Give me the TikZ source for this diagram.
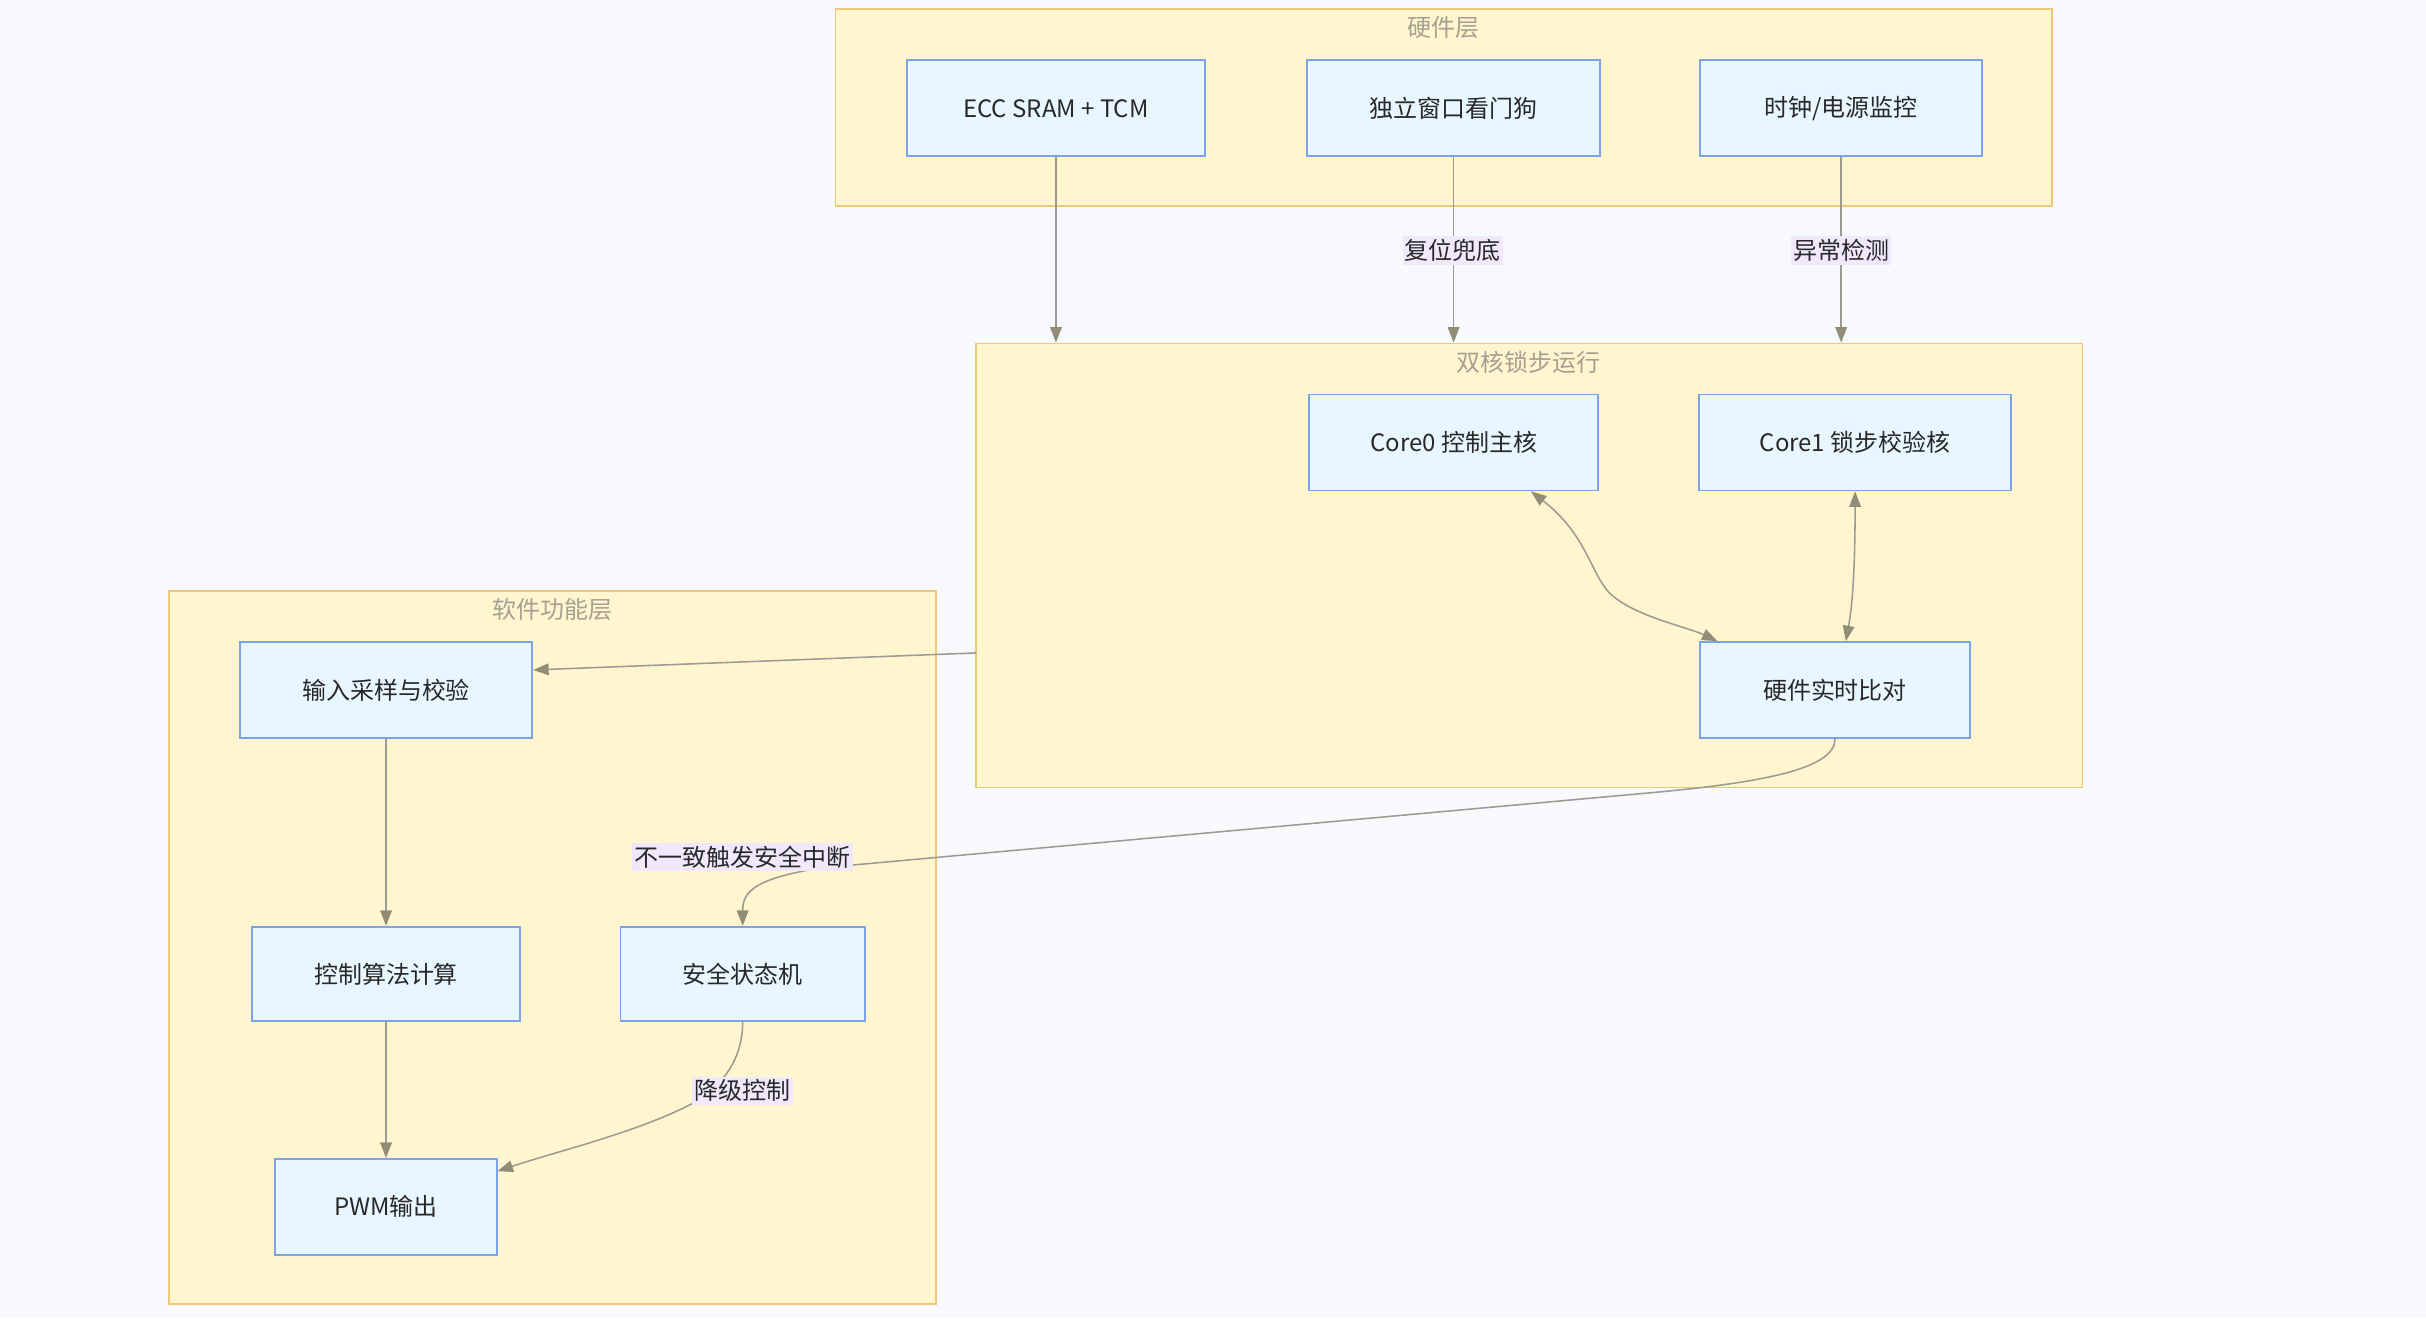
\documentclass[tikz,border=0pt]{standalone}
\usepackage{fontspec}
\setmainfont{Noto Sans CJK SC}
\usetikzlibrary{arrows.meta,calc}
\definecolor{bgc}{RGB}{248,249,252}
\definecolor{clfill}{RGB}{255,246,208}
\definecolor{cldraw}{RGB}{238,200,120}
\definecolor{cltext}{RGB}{165,160,145}
\definecolor{nfill}{RGB}{232,246,255}
\definecolor{ndraw}{RGB}{125,162,230}
\definecolor{ntext}{RGB}{40,40,40}
\definecolor{linec}{RGB}{155,155,148}
\definecolor{tipc}{RGB}{145,141,118}
\definecolor{lblfill}{RGB}{240,233,252}
\tikzset{
  cluster/.style={draw=cldraw,fill=clfill,line width=1.2pt,inner sep=0pt},
  cltitle/.style={text=cltext,font=\fontsize{15.5}{18}\selectfont,inner sep=0pt},
  box/.style={draw=ndraw,fill=nfill,line width=1.2pt,inner sep=0pt,text=ntext,font=\fontsize{15.5}{18}\selectfont},
  conn/.style={draw=linec,line width=1pt,-{Triangle[length=10pt,width=7.5pt,fill=tipc,color=tipc]}},
  conn2/.style={draw=linec,line width=1pt,{Triangle[length=10pt,width=7.5pt,fill=tipc,color=tipc]}-{Triangle[length=10pt,width=7.5pt,fill=tipc,color=tipc]}},
  elabel/.style={fill=lblfill,inner xsep=1.5pt,inner ysep=2pt,text=ntext,font=\fontsize{15.5}{18}\selectfont}
}
\begin{document}
\begin{tikzpicture}[x=1pt,y=-1pt]
\useasboundingbox (0,0) rectangle (1568,852);
\fill[bgc] (0,0) rectangle (1568,852);
% clusters
\node[cluster,minimum width=786pt,minimum height=127pt] (c1) at (933,69.5) {};
\node[cltitle] (t1) at (933,18) {硬件层};
\node[cluster,minimum width=715pt,minimum height=287pt] (c2) at (988.5,365.5) {};
\node[cltitle] (t2) at (988,234) {双核锁步运行};
\node[cluster,minimum width=496pt,minimum height=461pt] (c3) at (357,612.5) {};
\node[cltitle] (t3) at (357,394) {软件功能层};
% nodes
\node[box,minimum width=193pt,minimum height=62pt] (ecc) at (682.5,70) {ECC SRAM + TCM};
\node[box,minimum width=189pt,minimum height=62pt] (wdg) at (939.5,70) {独立窗口看门狗};
\node[box,minimum width=182pt,minimum height=62pt] (clk) at (1190,70) {时钟/电源监控};
\node[box,minimum width=187pt,minimum height=62pt] (core0) at (939.5,286) {Core0 控制主核};
\node[box,minimum width=202pt,minimum height=62pt] (core1) at (1199,286) {Core1 锁步校验核};
\node[box,minimum width=174pt,minimum height=62pt] (cmp) at (1186,446) {硬件实时比对};
\node[box,minimum width=189pt,minimum height=62pt] (inp) at (249.5,446) {输入采样与校验};
\node[box,minimum width=173pt,minimum height=61pt] (alg) at (249.5,629.5) {控制算法计算};
\node[box,minimum width=158pt,minimum height=61pt] (safe) at (480,629.5) {安全状态机};
\node[box,minimum width=143pt,minimum height=62pt] (pwm) at (249.5,780) {PWM输出};
% connectors hardware -> lockstep cluster
\draw[conn] (ecc.south) -- (ecc.south |- c2.north);
\draw[conn] (wdg.south) -- (wdg.south |- c2.north);
\draw[conn] (clk.south) -- (clk.south |- c2.north);
\node[elabel] (l1) at (939,162) {复位兜底};
\node[elabel] (l2) at (1190,162) {异常检测};
% core <-> compare
\draw[conn2] ([xshift=50pt]core0.south) .. controls (1025,345) and (1028,370) .. (1040,383) .. controls (1055,398) and (1090,405) .. ([xshift=-76pt]cmp.north);
\draw[conn2] (core1.south) .. controls (1199,380) and (1196,398) .. ([xshift=7pt]cmp.north);
% cluster -> input
\coordinate (c2out) at (631,422);
\draw[conn] (c2out) -- ([yshift=13pt]inp.east);
% compare -> safe state machine
\coordinate (m1) at (1060,513);
\coordinate (m2) at (530,561);
\draw[conn] (cmp.south) .. controls (1186,497) and (1140,506) .. (m1) -- (m2) .. controls (488,568) and (480,576) .. (safe.north);
\node[elabel] (l3) at (480,554) {不一致触发安全中断};
% software chain
\draw[conn] (inp.south) -- (alg.north);
\draw[conn] (alg.south) -- (pwm.north);
\coordinate (m3) at (455,709);
\draw[conn] (safe.south) .. controls (480,682) and (470,697) .. (m3) .. controls (420,730) and (360,744) .. ([yshift=23pt]pwm.east);
\node[elabel] (l4) at (480,705) {降级控制};
\end{tikzpicture}
\end{document}
